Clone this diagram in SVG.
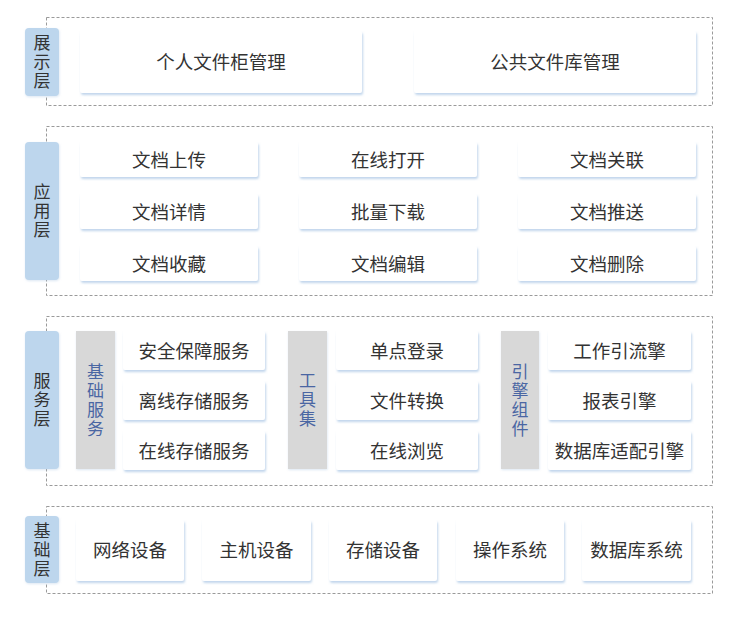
<svg xmlns="http://www.w3.org/2000/svg" width="745" height="619" viewBox="0 0 745 619">
<defs>
<filter id="sh" x="-10%" y="-10%" width="125%" height="140%">
<feDropShadow dx="1" dy="2" stdDeviation="1.2" flood-color="#8fb3dc" flood-opacity="0.55"/>
</filter>
<filter id="sh2" x="-10%" y="-10%" width="125%" height="130%">
<feDropShadow dx="0.5" dy="1" stdDeviation="1" flood-color="#a9c3e0" flood-opacity="0.4"/>
</filter>
</defs>
<style>
.layer{fill:#ffffff;stroke:#9a9a9a;stroke-width:1;stroke-dasharray:3 2;}
.lab{fill:#bdd6ed;filter:url(#sh2);}
.grp{fill:#d8d8d8;filter:url(#sh2);}
.node{fill:#ffffff;filter:url(#sh);}
text{font-family:"Noto Sans CJK SC","Noto Sans",sans-serif;font-size:18.5px;fill:#333333;text-anchor:middle;dominant-baseline:central;}
.v{font-size:17px;writing-mode:vertical-rl;letter-spacing:2px;}
.gt{fill:#4a66a3;}
</style>
<rect width="745" height="619" fill="#ffffff"/>
<g id="layers">
<rect class="layer" x="46.5" y="17.5" width="666" height="88"/>
<rect class="layer" x="46.5" y="126.5" width="666" height="169"/>
<rect class="layer" x="46.5" y="316.5" width="666" height="169"/>
<rect class="layer" x="46.5" y="506.5" width="666" height="87"/>
</g>
<g id="label-display"><rect class="lab" x="25" y="28" width="34" height="68" rx="4"/><text class="v" x="42" y="63">展示层</text></g>
<g id="label-app"><rect class="lab" x="25" y="142" width="34" height="138" rx="4"/><text class="v" x="42" y="212">应用层</text></g>
<g id="label-service"><rect class="lab" x="25" y="331" width="34" height="138" rx="4"/><text class="v" x="42" y="401">服务层</text></g>
<g id="label-base"><rect class="lab" x="25" y="516" width="34" height="67" rx="4"/><text class="v" x="42" y="550.5">基础层</text></g>

<g id="n-personal"><rect class="node" x="80" y="31" width="282" height="62" rx="2"/><text x="221" y="61">个人文件柜管理</text></g>
<g id="n-public"><rect class="node" x="414" y="31" width="282" height="62" rx="2"/><text x="555" y="61">公共文件库管理</text></g>

<g id="n-upload"><rect class="node" x="80" y="142" width="178" height="35" rx="2"/><text x="169" y="159">文档上传</text></g>
<g id="n-open"><rect class="node" x="299" y="142" width="178" height="35" rx="2"/><text x="388" y="159">在线打开</text></g>
<g id="n-link"><rect class="node" x="518" y="142" width="178" height="35" rx="2"/><text x="607" y="159">文档关联</text></g>
<g id="n-detail"><rect class="node" x="80" y="194" width="178" height="35" rx="2"/><text x="169" y="211">文档详情</text></g>
<g id="n-batch"><rect class="node" x="299" y="194" width="178" height="35" rx="2"/><text x="388" y="211">批量下载</text></g>
<g id="n-push"><rect class="node" x="518" y="194" width="178" height="35" rx="2"/><text x="607" y="211">文档推送</text></g>
<g id="n-fav"><rect class="node" x="80" y="246" width="178" height="35" rx="2"/><text x="169" y="263">文档收藏</text></g>
<g id="n-edit"><rect class="node" x="299" y="246" width="178" height="35" rx="2"/><text x="388" y="263">文档编辑</text></g>
<g id="n-del"><rect class="node" x="518" y="246" width="178" height="35" rx="2"/><text x="607" y="263">文档删除</text></g>

<g id="g-basic"><rect class="grp" x="76" y="331" width="39" height="138"/><text class="v gt" x="95.5" y="401">基础服务</text></g>
<g id="g-tools"><rect class="grp" x="288" y="331" width="39" height="138"/><text class="v gt" x="307.5" y="401">工具集</text></g>
<g id="g-engine"><rect class="grp" x="501" y="331" width="38" height="138"/><text class="v gt" x="520" y="401">引擎组件</text></g>

<g id="n-security"><rect class="node" x="123" y="331" width="142" height="39" rx="2"/><text x="194" y="350">安全保障服务</text></g>
<g id="n-offline"><rect class="node" x="123" y="381" width="142" height="39" rx="2"/><text x="194" y="400">离线存储服务</text></g>
<g id="n-online"><rect class="node" x="123" y="431" width="142" height="39" rx="2"/><text x="194" y="450">在线存储服务</text></g>
<g id="n-sso"><rect class="node" x="336" y="331" width="142" height="39" rx="2"/><text x="407" y="350">单点登录</text></g>
<g id="n-convert"><rect class="node" x="336" y="381" width="142" height="39" rx="2"/><text x="407" y="400">文件转换</text></g>
<g id="n-browse"><rect class="node" x="336" y="431" width="142" height="39" rx="2"/><text x="407" y="450">在线浏览</text></g>
<g id="n-workflow"><rect class="node" x="548" y="331" width="143" height="39" rx="2"/><text x="619.5" y="350">工作引流擎</text></g>
<g id="n-report"><rect class="node" x="548" y="381" width="143" height="39" rx="2"/><text x="619.5" y="400">报表引擎</text></g>
<g id="n-dbadapt"><rect class="node" x="548" y="431" width="143" height="39" rx="2"/><text x="619.5" y="450">数据库适配引擎</text></g>

<g id="n-network"><rect class="node" x="76" y="520" width="108" height="61" rx="2"/><text x="130" y="549">网络设备</text></g>
<g id="n-host"><rect class="node" x="202" y="520" width="109" height="61" rx="2"/><text x="256.5" y="549">主机设备</text></g>
<g id="n-storage"><rect class="node" x="329" y="520" width="108" height="61" rx="2"/><text x="383" y="549">存储设备</text></g>
<g id="n-os"><rect class="node" x="456" y="520" width="108" height="61" rx="2"/><text x="510" y="549">操作系统</text></g>
<g id="n-db"><rect class="node" x="582" y="520" width="109" height="61" rx="2"/><text x="636.5" y="549">数据库系统</text></g>
<g id="connectors"/>
</svg>
